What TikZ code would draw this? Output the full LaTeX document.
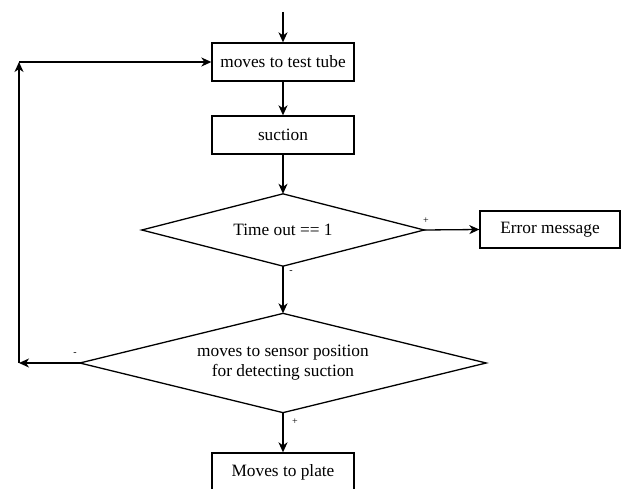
\documentclass[tikz,border=0pt]{standalone}
\usepackage{fontspec}
\setmainfont{Liberation Serif}
\usetikzlibrary{arrows.meta}
\begin{document}
\begin{tikzpicture}[x=1pt,y=-1pt,line width=1.3pt,
  font=\fontsize{17.3}{20}\selectfont,
  arr/.style={-{Stealth[length=10pt,width=9pt,inset=3pt]}},
  procbox/.style={draw,minimum width=142pt,minimum height=38pt,inner sep=0pt},
  decision/.style={inner sep=0pt,align=center},
  lbl/.style={font=\fontsize{10}{11}\selectfont,inner sep=0pt}]
\useasboundingbox (0,0) rectangle (624,489);
\clip (0,0) rectangle (624,489);
\coordinate (start) at (283,12);
\node[procbox] (b1) at (283,62) {moves to test tube};
\node[procbox] (b2) at (283,135) {suction};
\node[decision,minimum width=281pt,minimum height=71pt] (d1) at (283,230) {Time out == 1};
\draw (d1.north) -- (d1.east) -- (d1.south) -- (d1.west) -- cycle;
\node[procbox,minimum width=140pt,minimum height=37pt] (err) at (550,229.5) {Error message};
\node[decision,minimum width=405pt,minimum height=98pt] (d2) at (283,363) {moves to sensor position\\for detecting suction};
\draw (d2.north) -- (d2.east) -- (d2.south) -- (d2.west) -- cycle;
\node[procbox] (b3) at (283,472) {Moves to plate};
\coordinate (l1) at (19,363);
\coordinate (l2) at (19,62);
\draw[arr] (start) -- (b1);
\draw[arr] (b1) -- (b2);
\draw[arr] (b2) -- (d1.north);
\draw[arr] (d1.east) -- (err.west);
\draw[arr] (d1.south) -- (d2.north);
\draw[arr] (d2.south) -- (b3.north);
\draw[arr] (d2.west) -- (l1);
\draw[arr] (l1) -- (l2);
\draw[arr] (l2) -- (b1.west);
\node[lbl] (p1) at (426,221) {+};
\node[lbl] (m1) at (291,272) {-};
\node[lbl] (m2) at (75,354) {-};
\node[lbl] (p2) at (295,422) {+};
\end{tikzpicture}
\end{document}
